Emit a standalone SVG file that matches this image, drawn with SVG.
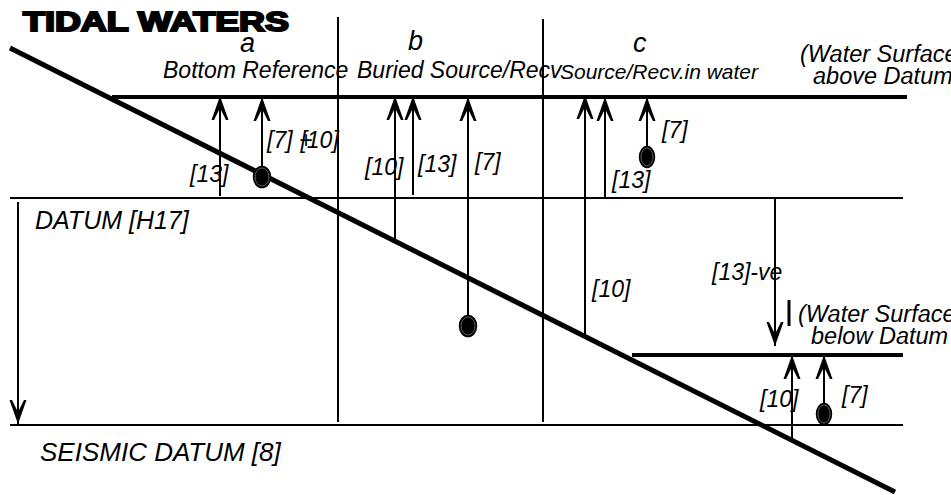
<svg xmlns="http://www.w3.org/2000/svg" width="951" height="495" viewBox="0 0 951 495">
<style>
text{font-family:"Liberation Sans",Arial,sans-serif;font-style:italic;fill:#000}
.title{font-style:normal;font-weight:bold;font-size:27px;stroke:#000;stroke-width:2px}
.col{font-size:27px}
.head{font-size:23px}
.lbl{font-size:23px}
.big{font-size:23.5px}
.thin{stroke:#000;stroke-width:2;fill:none}
.thick{stroke:#000;stroke-width:4;fill:none}
.ground{stroke:#000;stroke-width:5;fill:none}
.arr{stroke:#000;stroke-width:2;fill:none;marker-end:url(#ah)}
.dot{fill:#000;stroke:#000;stroke-width:1.5}
.ring{fill:none;stroke:#777;stroke-width:0.8}
</style>
<defs>
<marker id="ah" markerUnits="userSpaceOnUse" viewBox="-26 -10 27 20" refX="0" refY="0" markerWidth="27" markerHeight="20" orient="auto">
<path d="M0,0 L-24,-8.5 L-24,-6 L-12,0 L-24,6 L-24,8.5 Z" fill="#000"/>
</marker>
</defs>
<rect width="951" height="495" fill="#fff"/>

<g id="title"><text class="title" x="23" y="31" textLength="266" lengthAdjust="spacingAndGlyphs">TIDAL WATERS</text></g>

<g id="levels">
<line class="thick" x1="112" y1="97" x2="907" y2="97"/>
<line class="thin" x1="10" y1="198" x2="903" y2="198"/>
<line class="thin" x1="10" y1="425" x2="903" y2="425"/>
<line class="thick" x1="632" y1="355" x2="903" y2="355"/>
<line class="thin" x1="338" y1="17" x2="338" y2="422"/>
<line class="thin" x1="543" y1="19" x2="543" y2="422"/>
<line x1="789" y1="300" x2="789" y2="326" stroke="#000" stroke-width="3"/>
</g>

<g id="seabed"><line class="ground" x1="10" y1="48" x2="895" y2="492"/></g>

<g id="col-a">
<text class="col" x="240" y="52">a</text>
<text class="head" x="163" y="78">Bottom Reference</text>
</g>
<g id="col-b">
<text class="col" x="408" y="50">b</text>
<text class="head" x="357" y="78">Buried Source/Recv</text>
</g>
<g id="col-c">
<text class="col" x="633" y="52">c</text>
<text class="head" x="560" y="79" style="font-size:21px">Source/Recv.in water</text>
</g>
<g id="water-above">
<text class="big" x="800" y="62">(Water Surface</text>
<text class="big" x="813" y="84">above Datum</text>
</g>
<g id="water-below">
<text class="big" x="798" y="322">(Water Surface</text>
<text class="big" x="811" y="344">below Datum</text>
</g>
<g id="datum"><text class="big" x="35" y="229" style="font-size:25px">DATUM [H17]</text></g>
<g id="seismic-datum"><text class="big" x="40" y="461" style="font-size:26px">SEISMIC DATUM [8]</text></g>

<g id="dots">
<ellipse class="dot" cx="262" cy="177" rx="8.5" ry="10.5"/><ellipse class="ring" cx="262" cy="177" rx="7" ry="9"/>
<ellipse class="dot" cx="468" cy="326" rx="8.5" ry="10.5"/><ellipse class="ring" cx="468" cy="326" rx="7" ry="9"/>
<ellipse class="dot" cx="647" cy="157" rx="7.5" ry="10.5"/><ellipse class="ring" cx="647" cy="157" rx="6" ry="9"/>
<ellipse class="dot" cx="824" cy="414" rx="7.5" ry="10.5"/><ellipse class="ring" cx="824" cy="414" rx="6" ry="9"/>
</g>

<g id="connectors">
<line class="arr" x1="220" y1="196" x2="220" y2="96"/>
<line class="arr" x1="262" y1="167" x2="262" y2="97"/>
<line class="arr" x1="395" y1="240" x2="395" y2="96"/>
<line class="arr" x1="413" y1="195" x2="413" y2="96"/>
<line class="arr" x1="468" y1="316" x2="468" y2="97"/>
<line class="arr" x1="585" y1="335" x2="585" y2="95"/>
<line class="arr" x1="605" y1="198" x2="605" y2="97"/>
<line class="arr" x1="647" y1="147" x2="647" y2="97"/>
<line class="arr" x1="775" y1="198" x2="775" y2="346"/>
<line class="arr" x1="792" y1="439" x2="792" y2="355"/>
<line class="arr" x1="824" y1="404" x2="824" y2="355"/>
<line class="arr" x1="18" y1="202" x2="18" y2="424"/>
</g>

<g id="labels">
<text class="lbl" x="190" y="182">[13]</text>
<text class="lbl" x="267" y="148">[7] +<tspan dx="-12">[10]</tspan></text>
<text class="lbl" x="365" y="175">[10]</text>
<text class="lbl" x="418" y="172">[13]</text>
<text class="lbl" x="475" y="170">[7]</text>
<text class="lbl" x="592" y="297">[10]</text>
<text class="lbl" x="612" y="188">[13]</text>
<text class="lbl" x="662" y="138">[7]</text>
<text class="lbl" x="712" y="280">[13]-ve</text>
<text class="lbl" x="760" y="407">[10]</text>
<text class="lbl" x="842" y="403">[7]</text>
</g>
</svg>
